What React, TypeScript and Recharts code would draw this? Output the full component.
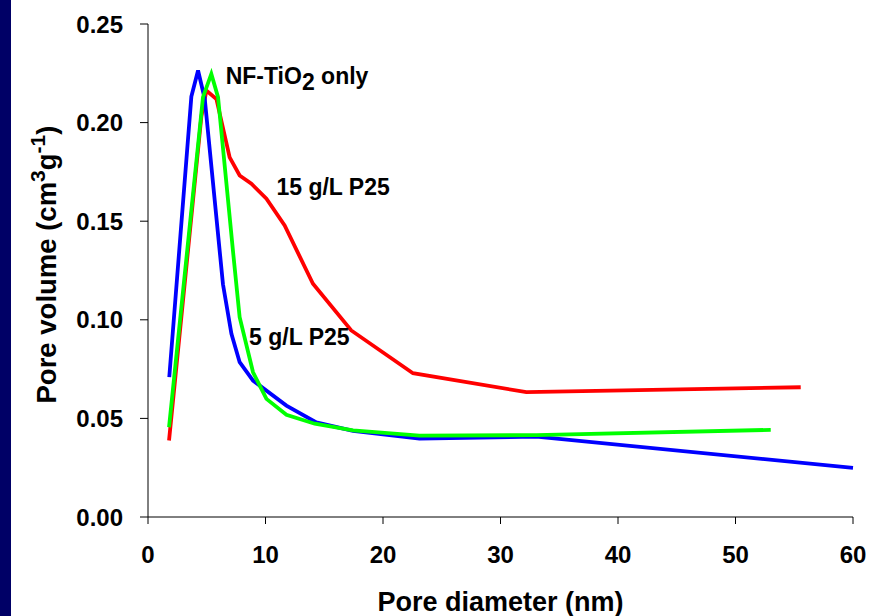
import React from "react";
import {
  LineChart,
  Line,
  XAxis,
  YAxis,
  ReferenceDot,
} from "recharts";

// Pore diameter (nm) / pore volume (cm3 g-1) for each sample
const blueX = [1.81, 3.69, 4.26, 4.83, 6.38, 7.1, 7.8, 8.94, 11.78, 14.33, 17.45, 23.1, 33.05, 60.0];
const blueY = [0.0709, 0.2132, 0.2264, 0.212, 0.118, 0.0929, 0.0785, 0.0692, 0.0565, 0.048, 0.0437, 0.0397, 0.0408, 0.0249];

const greenX = [1.79, 4.68, 5.39, 5.96, 7.23, 7.8, 8.94, 10.08, 11.78, 14.19, 17.45, 23.1, 33.05, 53.0];
const greenY = [0.0455, 0.2129, 0.2247, 0.2129, 0.135, 0.1013, 0.0734, 0.0599, 0.0518, 0.0473, 0.0439, 0.0413, 0.0415, 0.0442];

const redX = [1.79, 4.54, 4.97, 5.82, 6.95, 7.8, 8.8, 10.08, 11.63, 14.04, 17.3, 22.55, 32.2, 55.55];
const redY = [0.0388, 0.203, 0.2163, 0.212, 0.1824, 0.1732, 0.169, 0.1614, 0.1478, 0.1183, 0.0946, 0.0729, 0.0633, 0.0658];

const xTicks = [0, 10, 20, 30, 40, 50, 60];
const yTicks = [0, 0.05, 0.1, 0.15, 0.2, 0.25];

const labelNF = { x: 6.61, y: 0.2198 };
const label15 = { x: 10.93, y: 0.1635, text: "15 g/L P25" };
const label5 = { x: 8.6, y: 0.0873, text: "5 g/L P25" };

const toPoints = (xs: number[], ys: number[]) => xs.map((x, i) => ({ x, y: ys[i] }));

const blueData = toPoints(blueX, blueY);
const greenData = toPoints(greenX, greenY);
const redData = toPoints(redX, redY);

const FONT = "'Liberation Sans', Arial, sans-serif";

const YTitle = (props: any) => {
  const vb = props.viewBox || {};
  const cx = 56;
  const cy = (vb.y ?? 24) + (vb.height ?? 493) / 2 - 6;
  return (
    <text
      x={cx}
      y={cy}
      transform={`rotate(-90 ${cx} ${cy})`}
      textAnchor="middle"
      fontFamily={FONT}
      fontWeight="bold"
      fontSize={27.5}
      fill="#000"
    >
      <tspan>Pore volume (cm</tspan>
      <tspan dy={-11} fontSize={21}>3</tspan>
      <tspan dy={11}>g</tspan>
      <tspan dy={-11} fontSize={21}>-1</tspan>
      <tspan dy={11}>)</tspan>
    </text>
  );
};

const App = () => {
  return (
    <div style={{ position: "absolute", left: 0, top: 0, width: 872, height: 616, background: "#ffffff" }}>
      <div style={{ position: "absolute", left: 0, top: 0, width: 11, height: 616, background: "#000066" }} />
      <div style={{ position: "absolute", left: 0, top: 0 }}>
        <LineChart
          width={872}
          height={616}
          margin={{ top: 24, right: 19, bottom: 0, left: 0 }}
        >
          <XAxis
            xAxisId="top"
            orientation="top"
            type="number"
            dataKey="x"
            domain={[0, 60]}
            height={0}
            tick={false}
            tickLine={false}
            axisLine={{ stroke: "#333333", strokeWidth: 1 }}
          />
          <YAxis
            yAxisId="right"
            orientation="right"
            type="number"
            domain={[0, 0.25]}
            width={0}
            tick={false}
            tickLine={false}
            axisLine={{ stroke: "#808080", strokeWidth: 1.5 }}
          />
          <XAxis
            type="number"
            dataKey="x"
            domain={[0, 60]}
            ticks={xTicks}
            height={99}
            tickSize={7}
            tickMargin={22}
            axisLine={{ stroke: "#000", strokeWidth: 1 }}
            tickLine={{ stroke: "#000", strokeWidth: 1 }}
            tick={{ fontFamily: FONT, fontWeight: "bold", fontSize: 24, fill: "#000" }}
            label={{
              value: "Pore diameter (nm)",
              position: "insideBottom",
              offset: 5,
              style: { fontFamily: FONT, fontWeight: "bold", fontSize: 27, fill: "#000" },
            }}
          />
          <YAxis
            type="number"
            domain={[0, 0.25]}
            ticks={yTicks}
            width={148}
            tickSize={8}
            tickMargin={17}
            tickFormatter={(v: number) => v.toFixed(2)}
            axisLine={{ stroke: "#000", strokeWidth: 1 }}
            tickLine={{ stroke: "#000", strokeWidth: 1 }}
            tick={{ fontFamily: FONT, fontWeight: "bold", fontSize: 24, fill: "#000" }}
            label={{ content: YTitle }}
          />
          <Line
            data={redData}
            dataKey="y"
            type="linear"
            stroke="#ff0000"
            strokeWidth={3.8}
            dot={false}
            isAnimationActive={false}
          />
          <Line
            data={blueData}
            dataKey="y"
            type="linear"
            stroke="#0000ff"
            strokeWidth={3.8}
            dot={false}
            isAnimationActive={false}
          />
          <Line
            data={greenData}
            dataKey="y"
            type="linear"
            stroke="#00ff00"
            strokeWidth={3.8}
            dot={false}
            isAnimationActive={false}
          />
          <ReferenceDot
            x={labelNF.x}
            y={labelNF.y}
            r={0}
            shape={(p: any) => (
              <text x={p.cx} y={p.cy} fontFamily={FONT} fontWeight="bold" fontSize={23} fill="#000">
                <tspan>NF-TiO</tspan>
                <tspan dy={6}>2</tspan>
                <tspan dy={-6}> only</tspan>
              </text>
            )}
          />
          <ReferenceDot
            x={label15.x}
            y={label15.y}
            r={0}
            shape={(p: any) => (
              <text x={p.cx} y={p.cy} fontFamily={FONT} fontWeight="bold" fontSize={23} fill="#000">
                {label15.text}
              </text>
            )}
          />
          <ReferenceDot
            x={label5.x}
            y={label5.y}
            r={0}
            shape={(p: any) => (
              <text x={p.cx} y={p.cy} fontFamily={FONT} fontWeight="bold" fontSize={23} fill="#000">
                {label5.text}
              </text>
            )}
          />
        </LineChart>
      </div>
    </div>
  );
};

export default App;
